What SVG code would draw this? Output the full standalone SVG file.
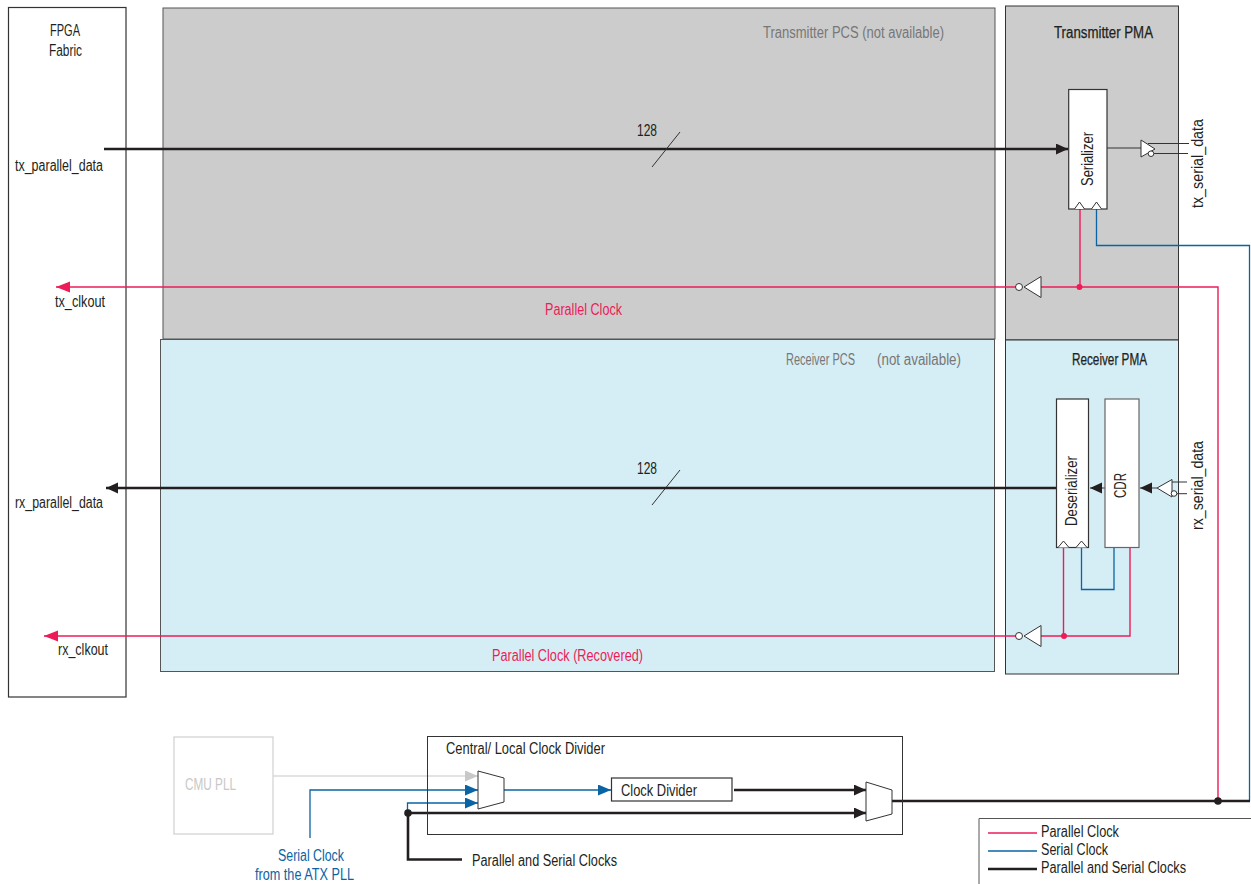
<svg xmlns="http://www.w3.org/2000/svg" width="1251" height="884" viewBox="0 0 1251 884">
<style>
text{font-family:"Liberation Sans","Open Sans",sans-serif;font-size:15.6px;fill:#231f20}
.g{fill:#777}.p{fill:#ed1c58}.b{fill:#0a64a4}.lg{fill:#c8c8c8}
.box{fill:#fff;stroke:#333;stroke-width:1.2}
.k{fill:none;stroke:#231f20;stroke-width:2.6}
.t{fill:none;stroke:#333;stroke-width:1}
.pk{fill:none;stroke:#ed1c58;stroke-width:1.4}
.bl{fill:none;stroke:#0a64a4;stroke-width:1.3}
.sym{fill:#fff;stroke:#333;stroke-width:1}
</style>
<defs>
<marker id="ak" markerUnits="userSpaceOnUse" markerWidth="13" markerHeight="12" refX="12" refY="5.5" orient="auto"><path d="M0 0L12 5.5L0 11Z" fill="#231f20"/></marker>
<marker id="ap" markerUnits="userSpaceOnUse" markerWidth="15" markerHeight="12" refX="14" refY="5.5" orient="auto"><path d="M0 0L14 5.5L0 11Z" fill="#ed1c58"/></marker>
<marker id="ab" markerUnits="userSpaceOnUse" markerWidth="14" markerHeight="12" refX="13" refY="5.5" orient="auto"><path d="M0 0L13 5.5L0 11Z" fill="#0a64a4"/></marker>
<marker id="ag" markerUnits="userSpaceOnUse" markerWidth="14" markerHeight="12" refX="13" refY="5.5" orient="auto"><path d="M0 0L13 5.5L0 11Z" fill="#c8c8c8"/></marker>
</defs>

<g id="fpga"><rect x="8.5" y="7.5" width="117.5" height="689.5" fill="#fff" stroke="#333" stroke-width="1.2"/>
<text x="50" y="36" textLength="30" lengthAdjust="spacingAndGlyphs">FPGA</text>
<text x="49" y="56" textLength="33" lengthAdjust="spacingAndGlyphs">Fabric</text>
<text x="15" y="171" textLength="88" lengthAdjust="spacingAndGlyphs">tx_parallel_data</text>
<text x="55" y="307" textLength="50" lengthAdjust="spacingAndGlyphs">tx_clkout</text>
<text x="15" y="508" textLength="88" lengthAdjust="spacingAndGlyphs">rx_parallel_data</text>
<text x="58" y="655" textLength="50" lengthAdjust="spacingAndGlyphs">rx_clkout</text></g>

<g id="tx-pcs"><rect x="163" y="8" width="832" height="331" fill="#ccc" stroke="#555" stroke-width="1"/>
<text class="g" x="763" y="38" textLength="181" lengthAdjust="spacingAndGlyphs">Transmitter PCS (not available)</text></g>
<g id="rx-pcs"><rect x="160.500" y="339.500" width="834" height="332" fill="#d5edf5" stroke="#555" stroke-width="1"/>
<text class="g" x="786" y="365" textLength="69" lengthAdjust="spacingAndGlyphs">Receiver PCS</text>
<text class="g" x="877" y="365" textLength="84" lengthAdjust="spacingAndGlyphs">(not available)</text></g>
<g id="tx-pma"><rect x="1005.500" y="6" width="173" height="334" fill="#ccc" stroke="#333" stroke-width="1"/>
<text x="1054" y="38" textLength="99" lengthAdjust="spacingAndGlyphs" stroke="#231f20" stroke-width=".25">Transmitter PMA</text></g>
<g id="rx-pma"><rect x="1005.500" y="340" width="173" height="334" fill="#d5edf5" stroke="#333" stroke-width="1"/>
<text x="1072" y="365" textLength="75" lengthAdjust="spacingAndGlyphs" stroke="#231f20" stroke-width=".25">Receiver PMA</text></g>

<g id="connectors">
<path class="k" d="M104 149H1068" marker-end="url(#ak)"/>
<path class="t" d="M652 167L680 132M652 505L680 470"/>
<path class="k" d="M1056 488H106" marker-end="url(#ak)"/>
<path class="pk" d="M1019 287H56" marker-end="url(#ap)"/>
<path class="pk" d="M1030 287H1218V801M1080 209V287"/>
<path class="bl" d="M1096.500 209V245.500H1249.500V801"/>
<path class="t" d="M1107 148H1141M1148 143.500H1189M1154 153.500H1188"/>
<path class="t" d="M1172 482H1187M1177 493.700H1187"/>
<path fill="none" stroke="#555" stroke-width="1.200" d="M1157 488H1140" marker-end="url(#ak)"/>
<path fill="none" stroke="#555" stroke-width="1.200" d="M1105 488H1090" marker-end="url(#ak)"/>
<path class="pk" d="M1019 636H44" marker-end="url(#ap)"/>
<path class="pk" d="M1030 636H1130V547.500M1063.500 547.500V636"/>
<path class="bl" d="M1081.500 547.500V589.500H1114V547.500"/>
<path fill="none" stroke="#c8c8c8" stroke-width="1.200" d="M273 776H478" marker-end="url(#ag)"/>
<path class="bl" d="M310 838V790H478" marker-end="url(#ab)"/>
<path class="bl" d="M407.500 813V803H478" marker-end="url(#ab)"/>
<path class="bl" d="M504 790H611" marker-end="url(#ab)"/>
<path class="k" d="M734 790H866" marker-end="url(#ak)"/>
<path class="k" d="M408 813H866" marker-end="url(#ak)"/>
<path class="k" d="M462 859.500H408V813"/>
<path class="k" d="M892 801H1250"/>
<circle cx="1079.500" cy="287" r="3" fill="#ed1c58"/>
<circle cx="1064" cy="636" r="3" fill="#ed1c58"/>
<circle cx="408" cy="813" r="3.800" fill="#231f20"/>
<circle cx="1218" cy="801" r="3.800" fill="#231f20"/>
</g>
<text x="637" y="136" textLength="20" lengthAdjust="spacingAndGlyphs">128</text>
<text x="637" y="474" textLength="20" lengthAdjust="spacingAndGlyphs">128</text>
<text class="p" x="545" y="315" textLength="77" lengthAdjust="spacingAndGlyphs">Parallel Clock</text>
<text class="p" x="492" y="661" textLength="151" lengthAdjust="spacingAndGlyphs">Parallel Clock (Recovered)</text>

<g id="serializer"><rect class="box" x="1068.700" y="89.500" width="38.300" height="119.500"/>
<path class="sym" d="M1074.500 209L1079.500 202L1084.500 209M1091.500 209L1096.500 202L1101.500 209"/>
<text transform="translate(1093 186) rotate(-90)" textLength="54" lengthAdjust="spacingAndGlyphs">Serializer</text></g>
<g id="tx-buffer"><path class="sym" d="M1141 140L1155 149L1141 157Z"/><circle class="sym" cx="1151" cy="153.700" r="2.800"/>
<text transform="translate(1203 208) rotate(-90)" textLength="89" lengthAdjust="spacingAndGlyphs">tx_serial_data</text></g>
<g id="tx-inverter"><path class="sym" d="M1041 276.500L1024 287L1041 297.500Z"/><circle class="sym" cx="1019" cy="287" r="3.500"/></g>

<g id="deserializer"><rect class="box" x="1056.500" y="399" width="32" height="148.500"/>
<path class="sym" d="M1058 547.500L1063.500 541L1069 547.500M1076 547.500L1081.500 541L1087 547.500"/>
<text transform="translate(1077 526) rotate(-90)" textLength="70" lengthAdjust="spacingAndGlyphs">Deserializer</text></g>
<g id="cdr"><rect class="box" x="1105" y="399" width="34" height="148.500" style="stroke:#666"/>
<text transform="translate(1126 498) rotate(-90)" textLength="25" lengthAdjust="spacingAndGlyphs">CDR</text></g>
<g id="rx-buffer"><path class="sym" d="M1172 479.500L1157 488L1172 497Z"/><circle class="sym" cx="1174" cy="493.500" r="2.800"/>
<text transform="translate(1203 530) rotate(-90)" textLength="89" lengthAdjust="spacingAndGlyphs">rx_serial_data</text></g>
<g id="rx-inverter"><path class="sym" d="M1041 625.500L1024 636L1041 646.500Z"/><circle class="sym" cx="1019" cy="636" r="3.500"/></g>

<g id="cmu-pll"><rect x="174" y="737" width="99" height="97" fill="#fff" stroke="#d0d0d0" stroke-width="1.200"/>
<text class="lg" x="185" y="790" textLength="51" lengthAdjust="spacingAndGlyphs">CMU PLL</text></g>
<g id="clock-divider-block"><rect x="427.500" y="736.500" width="475" height="98" fill="none" stroke="#333" stroke-width="1"/>
<text x="446" y="754" textLength="159" lengthAdjust="spacingAndGlyphs">Central/ Local Clock Divider</text></g>
<g id="mux1"><path class="sym" d="M478 771L504 778V802L478 809Z"/></g>
<g id="mux2"><path class="sym" d="M866 782L892 790V814L866 821Z"/></g>
<g id="clock-divider"><rect class="box" x="611.500" y="778" width="120.500" height="23"/>
<text x="621" y="796" textLength="76" lengthAdjust="spacingAndGlyphs">Clock Divider</text></g>
<text class="b" x="278" y="861" textLength="66" lengthAdjust="spacingAndGlyphs">Serial Clock</text>
<text class="b" x="255" y="880" textLength="99" lengthAdjust="spacingAndGlyphs">from the ATX PLL</text>
<text x="472" y="866" textLength="145" lengthAdjust="spacingAndGlyphs">Parallel and Serial Clocks</text>

<g id="legend"><path d="M1251 818.500H979V884" fill="none" stroke="#555" stroke-width="1"/>
<path class="pk" d="M988 833H1037"/><path class="bl" d="M988 851H1037"/><path class="k" d="M988 869H1037"/>
<text x="1041" y="837" textLength="78" lengthAdjust="spacingAndGlyphs">Parallel Clock</text>
<text x="1041" y="855" textLength="67" lengthAdjust="spacingAndGlyphs">Serial Clock</text>
<text x="1041" y="873" textLength="145" lengthAdjust="spacingAndGlyphs">Parallel and Serial Clocks</text></g>
</svg>
